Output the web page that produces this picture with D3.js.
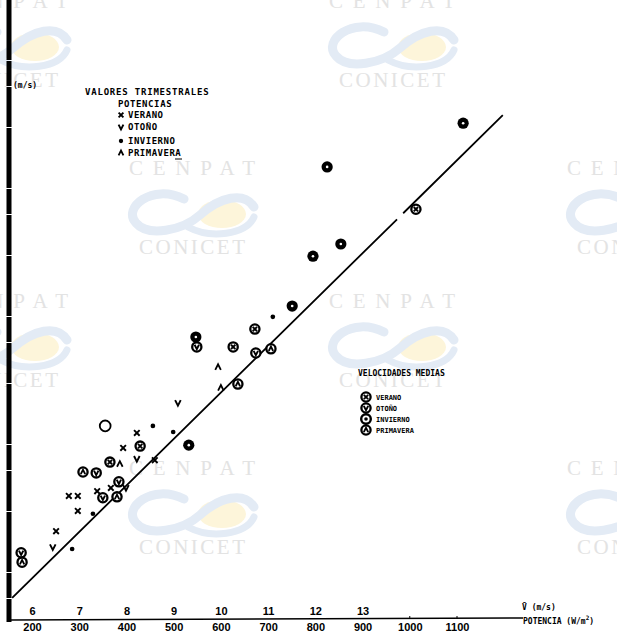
<!DOCTYPE html>
<html><head><meta charset="utf-8">
<script src="https://cdn.jsdelivr.net/npm/d3@7"></script>
<style>body{margin:0;background:#fff}svg{display:block}</style>
</head><body>
<svg id="c" width="617" height="634"></svg>
<script>
// ---- data ----
const potTicks = [200,300,400,500,600,700,800,900,1000,1100];
const velTicks = [6,7,8,9,10,11,12,13];
// valores trimestrales [potencia W/m2, velocidad m/s]
const veranoTrim    = [[422,8.98],[393,8.66],[460,8.40],[367,7.81],[338,7.74],[278,7.64],[297,7.64],[297,7.32],[251,6.89]];
const otonoTrim     = [[509,9.62],[422,8.43],[399,7.81],[244,6.55]];
const inviernoTrim  = [[456,9.13],[499,9.00],[710,11.45],[329,7.26],[285,6.51]];
const primaveraTrim = [[594,10.38],[600,9.94],[386,8.32]];
// velocidades medias
const veranoMed    = [[1013,13.74],[672,11.19],[626,10.81],[429,8.70],[365,8.36]];
const otonoMed     = [[549,10.81],[674,10.68],[336,8.13],[384,7.94],[350,7.60],[177,6.43]];
const inviernoMed  = [[1113,15.57],[825,14.64],[854,13.00],[795,12.74],[751,11.68],[532,8.72],[547,11.02]];
const primaveraMed = [[706,10.77],[636,10.02],[308,8.15],[380,7.62],[179,6.23]];
const sinMarcaMed  = [[355,9.13]];
const fitLine = [[158,5.47],[1197,15.74]];
const fitGap = [973,986];
const legendTrim = ["VERANO","OTOÑO","INVIERNO","PRIMAVERA"];
const legendMed  = ["VERANO","OTOÑO","INVIERNO","PRIMAVERA"];

// ---- scales ----
const svg = d3.select("#c");
const x = d3.scaleLinear().domain([200,1100]).range([32,457]);
const v = d3.scaleLinear().domain([6,13]).range([x(200), x(900)]);
const y = d3.scaleLinear().domain([5,18]).range([620,9]);

// ---- watermark tiles ----
const wm = svg.append("g").attr("class","watermark");
const tiles = [[5,8],[5,308],[192,175],[192,475],[392,8],[392,308],[630,175],[630,475]];
tiles.forEach(([cx,by]) => {
  const sy = by + 38;
  const lg = wm.append("g");
  lg.append("ellipse").attr("cx",cx+30).attr("cy",sy+1).attr("rx",24).attr("ry",14)
    .attr("fill","#fdf5da").attr("stroke","none");
  lg.append("path")
    .attr("d",`M${cx-8},${sy-14} C${cx-40},${sy-30} ${cx-70},${sy-5} ${cx-56},${sy+10} C${cx-44},${sy+24} ${cx-10},${sy+18} ${cx+8},${sy+2} C${cx+28},${sy-16} ${cx+52},${sy-22} ${cx+62},${sy-6}`)
    .attr("fill","none").attr("stroke","#e3ebf5").attr("stroke-width",9).attr("stroke-linecap","round");
  lg.append("path")
    .attr("d",`M${cx-4},${sy+14} C${cx+18},${sy+26} ${cx+54},${sy+22} ${cx+62},${sy+4}`)
    .attr("fill","none").attr("stroke","#e3ebf5").attr("stroke-width",7).attr("stroke-linecap","round");
  wm.append("text").attr("x",cx).attr("y",by).attr("text-anchor","middle")
    .attr("textLength",126).attr("lengthAdjust","spacing")
    .style("font","21px 'Liberation Serif', serif").attr("fill","#e3e3e3").text("CENPAT");
  wm.append("text").attr("x",cx).attr("y",by+79).attr("text-anchor","middle")
    .attr("textLength",106).attr("lengthAdjust","spacing")
    .style("font","21px 'Liberation Serif', serif").attr("fill","#e3e3e3").text("CONICET");
});

// ---- axes ----
svg.append("line").attr("x1",9).attr("y1",0).attr("x2",9).attr("y2",622)
  .attr("stroke","#000").attr("stroke-width",5).attr("stroke-dasharray","60,1,25,1,40,1");
svg.append("text").attr("x",13).attr("y",88)
  .style("font","bold 8px 'DejaVu Sans Mono', monospace").text("(m/s)");

svg.append("line").attr("x1",10).attr("y1",620).attr("x2",523).attr("y2",618)
  .attr("stroke","#000").attr("stroke-width",1.6);

const gB = svg.append("g").attr("transform","translate(0,620)")
  .call(d3.axisBottom(x).tickValues(potTicks).tickSize(0).tickPadding(3).tickFormat(d3.format("d")));
gB.select(".domain").remove();
gB.selectAll("text").style("font","bold 11px 'Liberation Sans', Arial, sans-serif").attr("fill","#000");

const gT = svg.append("g").attr("transform","translate(0,619)")
  .call(d3.axisTop(v).tickValues(velTicks).tickSize(0).tickPadding(4).tickFormat(d3.format("d")));
gT.select(".domain").remove();
gT.selectAll("text").style("font","bold 11px 'Liberation Sans', Arial, sans-serif").attr("fill","#000");

svg.selectAll(".tk").data([1000,1100]).enter().append("line")
  .attr("x1",d=>x(d)).attr("x2",d=>x(d)).attr("y1",619).attr("y2",616)
  .attr("stroke","#000").attr("stroke-width",1);

const lab = "bold 8px 'DejaVu Sans Mono', monospace";
svg.append("text").attr("x",522).attr("y",610).style("font",lab).text("V\u0304 (m/s)");
const pt = svg.append("text").attr("x",523).attr("y",624).style("font",lab);
pt.append("tspan").text("POTENCIA (W/m");
pt.append("tspan").attr("dy",-4).style("font-size","6px").text("2");
pt.append("tspan").attr("dy",4).text(")");

// ---- regression line (with the small break of the original) ----
const fit = svg.append("path").datum(fitLine)
  .attr("d", d3.line().x(d=>x(d[0])).y(d=>y(d[1])))
  .attr("fill","none").attr("stroke","#000").attr("stroke-width",1.8);
{
  const L = fit.node().getTotalLength();
  const x0 = x(fitLine[0][0]), x1 = x(fitLine[1][0]);
  const a = (x(fitGap[0]) - x0)/(x1 - x0) * L, b = (x(fitGap[1]) - x0)/(x1 - x0) * L;
  fit.attr("stroke-dasharray", `${a},${b-a},${L}`);
}

// ---- marker painters ----
function sym(g, type, cx, cy, s){
  if(type==="x"){
    g.append("path").attr("d",`M${cx-s},${cy-s}L${cx+s},${cy+s}M${cx+s},${cy-s}L${cx-s},${cy+s}`)
      .attr("stroke","#000").attr("stroke-width",1.9).attr("fill","none");
  } else if(type==="v"){
    g.append("path").attr("d",`M${cx-s},${cy-s}L${cx},${cy+s}L${cx+s},${cy-s}`)
      .attr("stroke","#000").attr("stroke-width",1.9).attr("fill","none");
  } else if(type==="dot"){
    g.append("circle").attr("cx",cx).attr("cy",cy).attr("r",s*0.9).attr("fill","#000");
  } else if(type==="a"){
    g.append("path").attr("d",`M${cx-s},${cy+s}L${cx},${cy-s}L${cx+s},${cy+s}`)
      .attr("stroke","#000").attr("stroke-width",1.8).attr("fill","none");
  }
}
function ring(g, type, cx, cy){
  if(type==="dot"){
    g.append("circle").attr("cx",cx).attr("cy",cy).attr("r",5.6).attr("fill","#000");
    g.append("circle").attr("cx",cx).attr("cy",cy).attr("r",1.3).attr("fill","#fff");
    return;
  }
  if(type===null){
    g.append("circle").attr("cx",cx).attr("cy",cy).attr("r",5.4)
      .attr("fill","#fff").attr("stroke","#000").attr("stroke-width",1.8);
    return;
  }
  g.append("circle").attr("cx",cx).attr("cy",cy).attr("r",4.6)
    .attr("fill","#fff").attr("stroke","#000").attr("stroke-width",2.3);
  sym(g, type, cx, cy, 2.2);
}

const gm = svg.append("g");
[[veranoTrim,"x"],[otonoTrim,"v"],[inviernoTrim,"dot"],[primaveraTrim,"a"]].forEach(([arr,t])=>{
  gm.selectAll(null).data(arr).enter().append("g").each(function(d){
    sym(d3.select(this), t, x(d[0]), y(d[1]), t==="dot"?2.6:2.8);
  });
});
[[veranoMed,"x"],[otonoMed,"v"],[inviernoMed,"dot"],[primaveraMed,"a"],[sinMarcaMed,null]].forEach(([arr,t])=>{
  gm.selectAll(null).data(arr).enter().append("g").each(function(d){
    ring(d3.select(this), t, x(d[0]), y(d[1]));
  });
});

// ---- legends ----
const f1 = "bold 9px 'DejaVu Sans Mono', monospace";
svg.append("text").attr("x",85).attr("y",95).style("font",f1).style("letter-spacing","0.8px").text("VALORES TRIMESTRALES");
svg.append("text").attr("x",118).attr("y",107).style("font",f1).style("letter-spacing","0.6px").text("POTENCIAS");
const ly1 = [118,130,144,156];
const types = ["x","v","dot","a"];
legendTrim.forEach((t,i)=>{
  sym(svg, types[i], 121, ly1[i]-3, 2.4);
  svg.append("text").attr("x",128).attr("y",ly1[i]).style("font",f1).style("letter-spacing","0.5px").text(t);
});
svg.append("line").attr("x1",175).attr("x2",182).attr("y1",159).attr("y2",159).attr("stroke","#000").attr("stroke-width",1);

const f2 = "bold 8px 'DejaVu Sans Mono', monospace";
svg.append("text").attr("x",358).attr("y",376).style("font",f2).text("VELOCIDADES MEDIAS");
const ly2 = [397,408,419,430];
legendMed.forEach((t,i)=>{
  if(types[i]==="dot"){
    svg.append("circle").attr("cx",366).attr("cy",ly2[i]).attr("r",4.8)
      .attr("fill","#fff").attr("stroke","#000").attr("stroke-width",2.4);
    svg.append("circle").attr("cx",366).attr("cy",ly2[i]).attr("r",1.8).attr("fill","#000");
  } else {
    ring(svg, types[i], 366, ly2[i]);
  }
  svg.append("text").attr("x",376).attr("y",ly2[i]+3).style("font","bold 7px 'DejaVu Sans Mono', monospace").text(t);
});
</script>
</body></html>
